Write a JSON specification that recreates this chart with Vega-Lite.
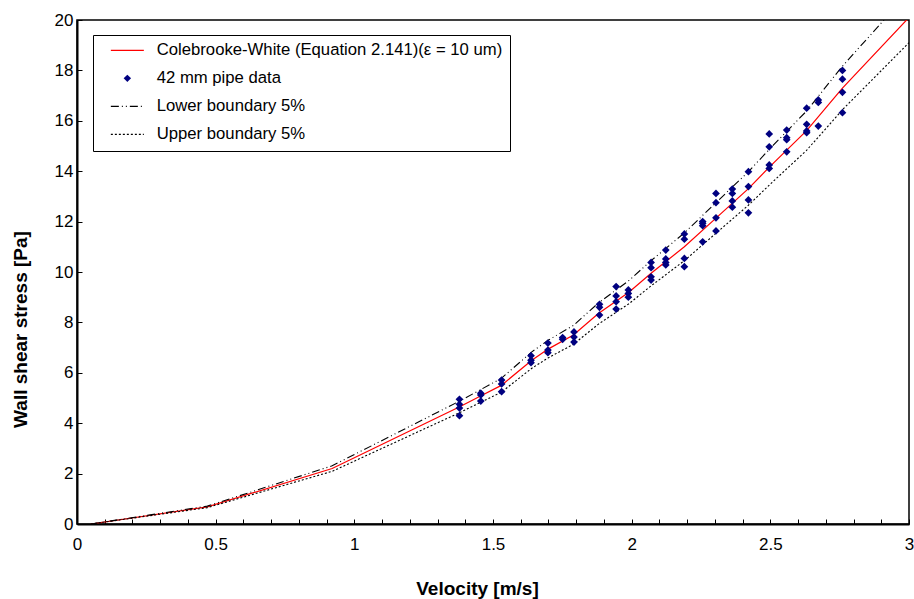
{
  "$schema": "https://vega.github.io/schema/vega-lite/v6.json",
  "autosize": "none",
  "width": 832,
  "height": 504,
  "padding": {"left": 77, "top": 20, "right": 5, "bottom": 75},
  "background": "white",
  "config": {
    "font": "Liberation Sans",
    "view": {"stroke": "black", "strokeWidth": 1.5},
    "axis": {"grid": false, "domainColor": "black", "domainWidth": 2, "tickColor": "black", "labelFont": "Liberation Sans", "labelFontSize": 17, "labelColor": "black", "titleFont": "Liberation Sans", "titleFontSize": 19, "titleFontWeight": "bold", "titleColor": "black"}
  },
  "datasets": {
    "curves": [
      {"v": 0.05, "tau": 0, "series": "Colebrooke-White (Equation 2.141)(ε = 10 um)"},
      {"v": 0.47, "tau": 0.68, "series": "Colebrooke-White (Equation 2.141)(ε = 10 um)"},
      {"v": 0.92, "tau": 2.2, "series": "Colebrooke-White (Equation 2.141)(ε = 10 um)"},
      {"v": 1.38, "tau": 4.65, "series": "Colebrooke-White (Equation 2.141)(ε = 10 um)"},
      {"v": 1.45, "tau": 5.05, "series": "Colebrooke-White (Equation 2.141)(ε = 10 um)"},
      {"v": 1.53, "tau": 5.5, "series": "Colebrooke-White (Equation 2.141)(ε = 10 um)"},
      {"v": 1.64, "tau": 6.5, "series": "Colebrooke-White (Equation 2.141)(ε = 10 um)"},
      {"v": 1.70, "tau": 6.95, "series": "Colebrooke-White (Equation 2.141)(ε = 10 um)"},
      {"v": 1.79, "tau": 7.5, "series": "Colebrooke-White (Equation 2.141)(ε = 10 um)"},
      {"v": 1.88, "tau": 8.35, "series": "Colebrooke-White (Equation 2.141)(ε = 10 um)"},
      {"v": 1.99, "tau": 9.2, "series": "Colebrooke-White (Equation 2.141)(ε = 10 um)"},
      {"v": 2.07, "tau": 9.95, "series": "Colebrooke-White (Equation 2.141)(ε = 10 um)"},
      {"v": 2.19, "tau": 11.0, "series": "Colebrooke-White (Equation 2.141)(ε = 10 um)"},
      {"v": 2.30, "tau": 12.1, "series": "Colebrooke-White (Equation 2.141)(ε = 10 um)"},
      {"v": 2.42, "tau": 13.3, "series": "Colebrooke-White (Equation 2.141)(ε = 10 um)"},
      {"v": 2.50, "tau": 14.2, "series": "Colebrooke-White (Equation 2.141)(ε = 10 um)"},
      {"v": 2.63, "tau": 15.6, "series": "Colebrooke-White (Equation 2.141)(ε = 10 um)"},
      {"v": 2.76, "tau": 17.3, "series": "Colebrooke-White (Equation 2.141)(ε = 10 um)"},
      {"v": 3.0, "tau": 20.1, "series": "Colebrooke-White (Equation 2.141)(ε = 10 um)"},
      {"v": 0.05, "tau": 0, "series": "Lower boundary 5%"},
      {"v": 0.47, "tau": 0.71, "series": "Lower boundary 5%"},
      {"v": 0.92, "tau": 2.31, "series": "Lower boundary 5%"},
      {"v": 1.38, "tau": 4.88, "series": "Lower boundary 5%"},
      {"v": 1.45, "tau": 5.30, "series": "Lower boundary 5%"},
      {"v": 1.53, "tau": 5.78, "series": "Lower boundary 5%"},
      {"v": 1.64, "tau": 6.83, "series": "Lower boundary 5%"},
      {"v": 1.70, "tau": 7.30, "series": "Lower boundary 5%"},
      {"v": 1.79, "tau": 7.88, "series": "Lower boundary 5%"},
      {"v": 1.88, "tau": 8.77, "series": "Lower boundary 5%"},
      {"v": 1.99, "tau": 9.66, "series": "Lower boundary 5%"},
      {"v": 2.07, "tau": 10.45, "series": "Lower boundary 5%"},
      {"v": 2.19, "tau": 11.55, "series": "Lower boundary 5%"},
      {"v": 2.30, "tau": 12.71, "series": "Lower boundary 5%"},
      {"v": 2.42, "tau": 13.97, "series": "Lower boundary 5%"},
      {"v": 2.50, "tau": 14.91, "series": "Lower boundary 5%"},
      {"v": 2.63, "tau": 16.38, "series": "Lower boundary 5%"},
      {"v": 2.76, "tau": 18.17, "series": "Lower boundary 5%"},
      {"v": 3.0, "tau": 21.1, "series": "Lower boundary 5%"},
      {"v": 0.05, "tau": 0, "series": "Upper boundary 5%"},
      {"v": 0.47, "tau": 0.65, "series": "Upper boundary 5%"},
      {"v": 0.92, "tau": 2.09, "series": "Upper boundary 5%"},
      {"v": 1.38, "tau": 4.42, "series": "Upper boundary 5%"},
      {"v": 1.45, "tau": 4.80, "series": "Upper boundary 5%"},
      {"v": 1.53, "tau": 5.23, "series": "Upper boundary 5%"},
      {"v": 1.64, "tau": 6.18, "series": "Upper boundary 5%"},
      {"v": 1.70, "tau": 6.60, "series": "Upper boundary 5%"},
      {"v": 1.79, "tau": 7.13, "series": "Upper boundary 5%"},
      {"v": 1.88, "tau": 7.93, "series": "Upper boundary 5%"},
      {"v": 1.99, "tau": 8.74, "series": "Upper boundary 5%"},
      {"v": 2.07, "tau": 9.45, "series": "Upper boundary 5%"},
      {"v": 2.19, "tau": 10.45, "series": "Upper boundary 5%"},
      {"v": 2.30, "tau": 11.50, "series": "Upper boundary 5%"},
      {"v": 2.42, "tau": 12.64, "series": "Upper boundary 5%"},
      {"v": 2.50, "tau": 13.49, "series": "Upper boundary 5%"},
      {"v": 2.63, "tau": 14.82, "series": "Upper boundary 5%"},
      {"v": 2.76, "tau": 16.44, "series": "Upper boundary 5%"},
      {"v": 3.0, "tau": 19.1, "series": "Upper boundary 5%"}
    ],
    "points": [
      {"v": 1.379, "tau": 4.95, "series": "42 mm pipe data"},
      {"v": 1.379, "tau": 4.75, "series": "42 mm pipe data"},
      {"v": 1.379, "tau": 4.6, "series": "42 mm pipe data"},
      {"v": 1.379, "tau": 4.3, "series": "42 mm pipe data"},
      {"v": 1.456, "tau": 5.19, "series": "42 mm pipe data"},
      {"v": 1.456, "tau": 5.12, "series": "42 mm pipe data"},
      {"v": 1.456, "tau": 4.88, "series": "42 mm pipe data"},
      {"v": 1.531, "tau": 5.71, "series": "42 mm pipe data"},
      {"v": 1.531, "tau": 5.56, "series": "42 mm pipe data"},
      {"v": 1.531, "tau": 5.25, "series": "42 mm pipe data"},
      {"v": 1.637, "tau": 6.68, "series": "42 mm pipe data"},
      {"v": 1.637, "tau": 6.5, "series": "42 mm pipe data"},
      {"v": 1.637, "tau": 6.4, "series": "42 mm pipe data"},
      {"v": 1.698, "tau": 7.18, "series": "42 mm pipe data"},
      {"v": 1.698, "tau": 6.9, "series": "42 mm pipe data"},
      {"v": 1.698, "tau": 6.8, "series": "42 mm pipe data"},
      {"v": 1.751, "tau": 7.4, "series": "42 mm pipe data"},
      {"v": 1.751, "tau": 7.33, "series": "42 mm pipe data"},
      {"v": 1.792, "tau": 7.62, "series": "42 mm pipe data"},
      {"v": 1.792, "tau": 7.42, "series": "42 mm pipe data"},
      {"v": 1.792, "tau": 7.22, "series": "42 mm pipe data"},
      {"v": 1.884, "tau": 8.72, "series": "42 mm pipe data"},
      {"v": 1.884, "tau": 8.6, "series": "42 mm pipe data"},
      {"v": 1.884, "tau": 8.29, "series": "42 mm pipe data"},
      {"v": 1.944, "tau": 9.42, "series": "42 mm pipe data"},
      {"v": 1.944, "tau": 9.05, "series": "42 mm pipe data"},
      {"v": 1.944, "tau": 8.82, "series": "42 mm pipe data"},
      {"v": 1.944, "tau": 8.53, "series": "42 mm pipe data"},
      {"v": 1.988, "tau": 9.29, "series": "42 mm pipe data"},
      {"v": 1.988, "tau": 9.15, "series": "42 mm pipe data"},
      {"v": 1.988, "tau": 9.0, "series": "42 mm pipe data"},
      {"v": 2.07, "tau": 10.38, "series": "42 mm pipe data"},
      {"v": 2.07, "tau": 10.17, "series": "42 mm pipe data"},
      {"v": 2.07, "tau": 9.81, "series": "42 mm pipe data"},
      {"v": 2.07, "tau": 9.68, "series": "42 mm pipe data"},
      {"v": 2.123, "tau": 10.87, "series": "42 mm pipe data"},
      {"v": 2.123, "tau": 10.52, "series": "42 mm pipe data"},
      {"v": 2.123, "tau": 10.38, "series": "42 mm pipe data"},
      {"v": 2.123, "tau": 10.28, "series": "42 mm pipe data"},
      {"v": 2.19, "tau": 11.51, "series": "42 mm pipe data"},
      {"v": 2.19, "tau": 11.3, "series": "42 mm pipe data"},
      {"v": 2.19, "tau": 10.54, "series": "42 mm pipe data"},
      {"v": 2.19, "tau": 10.21, "series": "42 mm pipe data"},
      {"v": 2.256, "tau": 12.0, "series": "42 mm pipe data"},
      {"v": 2.256, "tau": 11.93, "series": "42 mm pipe data"},
      {"v": 2.256, "tau": 11.84, "series": "42 mm pipe data"},
      {"v": 2.256, "tau": 11.2, "series": "42 mm pipe data"},
      {"v": 2.304, "tau": 13.12, "series": "42 mm pipe data"},
      {"v": 2.304, "tau": 12.75, "series": "42 mm pipe data"},
      {"v": 2.304, "tau": 12.15, "series": "42 mm pipe data"},
      {"v": 2.304, "tau": 11.63, "series": "42 mm pipe data"},
      {"v": 2.363, "tau": 13.29, "series": "42 mm pipe data"},
      {"v": 2.363, "tau": 13.12, "series": "42 mm pipe data"},
      {"v": 2.363, "tau": 12.82, "series": "42 mm pipe data"},
      {"v": 2.363, "tau": 12.57, "series": "42 mm pipe data"},
      {"v": 2.421, "tau": 13.98, "series": "42 mm pipe data"},
      {"v": 2.421, "tau": 13.39, "series": "42 mm pipe data"},
      {"v": 2.421, "tau": 12.86, "series": "42 mm pipe data"},
      {"v": 2.421, "tau": 12.35, "series": "42 mm pipe data"},
      {"v": 2.496, "tau": 15.48, "series": "42 mm pipe data"},
      {"v": 2.496, "tau": 14.97, "series": "42 mm pipe data"},
      {"v": 2.496, "tau": 14.25, "series": "42 mm pipe data"},
      {"v": 2.496, "tau": 14.11, "series": "42 mm pipe data"},
      {"v": 2.559, "tau": 15.63, "series": "42 mm pipe data"},
      {"v": 2.559, "tau": 15.33, "series": "42 mm pipe data"},
      {"v": 2.559, "tau": 15.25, "series": "42 mm pipe data"},
      {"v": 2.559, "tau": 14.77, "series": "42 mm pipe data"},
      {"v": 2.631, "tau": 16.5, "series": "42 mm pipe data"},
      {"v": 2.631, "tau": 15.86, "series": "42 mm pipe data"},
      {"v": 2.631, "tau": 15.6, "series": "42 mm pipe data"},
      {"v": 2.631, "tau": 15.53, "series": "42 mm pipe data"},
      {"v": 2.673, "tau": 16.83, "series": "42 mm pipe data"},
      {"v": 2.673, "tau": 16.73, "series": "42 mm pipe data"},
      {"v": 2.673, "tau": 15.79, "series": "42 mm pipe data"},
      {"v": 2.76, "tau": 18.0, "series": "42 mm pipe data"},
      {"v": 2.76, "tau": 17.65, "series": "42 mm pipe data"},
      {"v": 2.76, "tau": 17.13, "series": "42 mm pipe data"},
      {"v": 2.76, "tau": 16.32, "series": "42 mm pipe data"}
    ]
  },
  "encoding": {
    "x": {
      "field": "v", "type": "quantitative",
      "scale": {"domain": [0, 3], "nice": false, "zero": false},
      "axis": {
        "title": "Velocity [m/s]",
        "values": [0, 0.1, 0.2, 0.3, 0.4, 0.5, 0.6, 0.7, 0.8, 0.9, 1, 1.1, 1.2, 1.3, 1.4, 1.5, 1.6, 1.7, 1.8, 1.9, 2, 2.1, 2.2, 2.3, 2.4, 2.5, 2.6, 2.7, 2.8, 2.9, 3],
        "format": "~g",
        "labelExpr": "indexof(['0','0.5','1','1.5','2','2.5','3'], datum.label) >= 0 ? datum.label : ''",
        "labelOverlap": false,
        "labelFlush": false,
        "tickSize": -5,
        "labelPadding": 17,
        "titleX": 400,
        "titleY": 64,
        "titleBaseline": "middle"
      }
    },
    "y": {
      "field": "tau", "type": "quantitative",
      "scale": {"domain": [0, 20], "nice": false, "zero": false},
      "axis": {
        "title": "Wall shear stress [Pa]",
        "values": [0, 2, 4, 6, 8, 10, 12, 14, 16, 18, 20],
        "tickSize": -5,
        "labelPadding": 9,
        "titleX": -57,
        "titleY": 309,
        "titleAngle": -90,
        "titleBaseline": "middle",
        "titleAlign": "center"
      }
    },
    "color": {
      "field": "series", "type": "nominal",
      "scale": {
        "domain": ["Colebrooke-White (Equation 2.141)(ε = 10 um)", "42 mm pipe data", "Lower boundary 5%", "Upper boundary 5%"],
        "range": ["#ff0000", "#000080", "#000000", "#000000"]
      },
      "legend": {
        "title": null,
        "orient": "none",
        "legendX": 16,
        "legendY": 15,
        "padding": 7,
        "fillColor": "white",
        "strokeColor": "black",
        "labelFont": "Liberation Sans",
        "labelFontSize": 16.7,
        "labelColor": "black",
        "labelLimit": 600,
        "symbolSize": 1089,
        "symbolStrokeWidth": 1.2,
        "symbolOffset": 19,
        "labelOffset": 21,
        "rowPadding": 10,
        "encode": {
          "symbols": {
            "update": {
              "shape": {"signal": "datum.value === '42 mm pipe data' ? 'diamond' : 'stroke'"},
              "size": {"signal": "datum.value === '42 mm pipe data' ? 55 : 1089"},
              "fill": {"signal": "datum.value === '42 mm pipe data' ? '#000080' : 'transparent'"},
              "stroke": {"signal": "(datum.value === 'Lower boundary 5%' || datum.value === 'Upper boundary 5%') ? '#000000' : (datum.value === '42 mm pipe data' ? '#000080' : '#ff0000')"},
              "strokeWidth": {"signal": "datum.value === '42 mm pipe data' ? 0 : 1.3"},
              "strokeDash": {"signal": "datum.value === 'Lower boundary 5%' ? [8,3,1,3,1,3] : (datum.value === 'Upper boundary 5%' ? [2,2] : [1,0])"},
              "opacity": {"value": 1}
            }
          }
        }
      }
    }
  },
  "layer": [
    {
      "data": {"name": "curves"},
      "transform": [{"filter": "datum.series === 'Colebrooke-White (Equation 2.141)(ε = 10 um)'"}],
      "mark": {"type": "line", "clip": true, "strokeWidth": 1.2}
    },
    {
      "data": {"name": "curves"},
      "transform": [{"filter": "datum.series === 'Lower boundary 5%'"}],
      "mark": {"type": "line", "clip": true, "strokeWidth": 1.1, "strokeDash": [8, 3, 1, 3, 1, 3]}
    },
    {
      "data": {"name": "curves"},
      "transform": [{"filter": "datum.series === 'Upper boundary 5%'"}],
      "mark": {"type": "line", "clip": true, "strokeWidth": 1.1, "strokeDash": [2, 2]}
    },
    {
      "data": {"name": "points"},
      "mark": {"type": "point", "shape": "diamond", "filled": true, "size": 60, "opacity": 1}
    }
  ]
}
